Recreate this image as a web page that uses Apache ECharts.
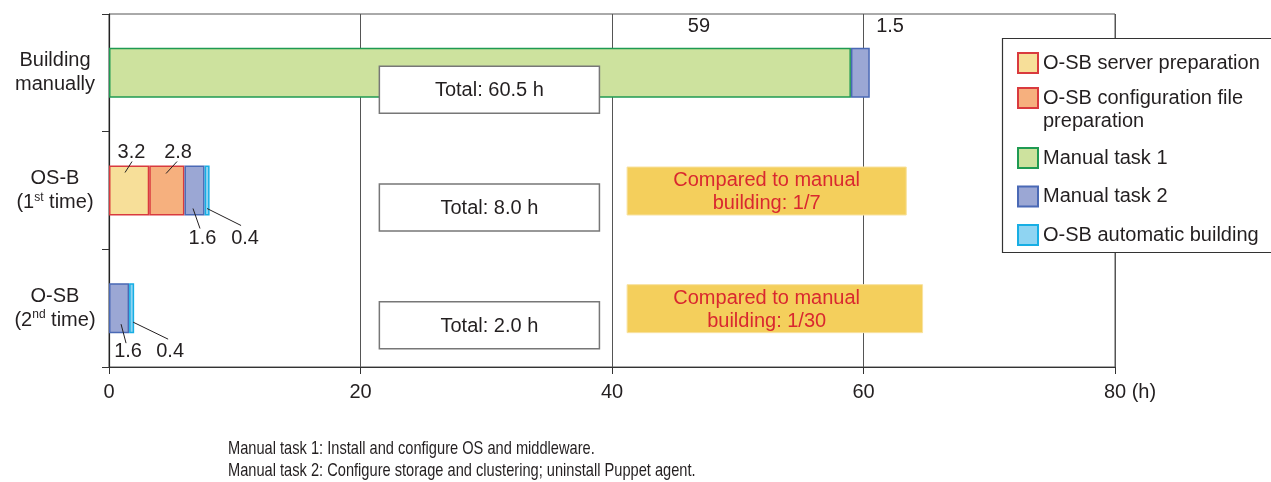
<!DOCTYPE html>
<html>
<head>
<meta charset="utf-8">
<script src="https://cdn.jsdelivr.net/npm/echarts@6/dist/echarts.min.js"></script>
<style>
  html, body { margin: 0; padding: 0; background: #ffffff; }
  #chart { width: 1271px; height: 482px; }
</style>
</head>
<body>
<div id="chart"></div>
<script>
// Build time per approach (hours), stacked by task
const categories = ['Building manually', 'OS-B (1st time)', 'O-SB (2nd time)'];
const serverPrep  = [null, 3.2, null];
const configPrep  = [null, 2.8, null];
const manualTask1 = [59, null, null];
const manualTask2 = [1.5, 1.6, 1.6];
const autoBuild   = [null, 0.4, 0.4];
const xTicks = [0, 20, 40, 60, 80];
const ratioLabels = [null, '1/7', '1/30'];
const footnotes = [
  'Manual task 1: Install and configure OS and middleware.',
  'Manual task 2: Configure storage and clustering; uninstall Puppet agent.'
];

const FONT = '"Liberation Sans", Arial, Helvetica, sans-serif';
const TEXT = '#231f20';
const BAR_W = 50;

const seriesDefs = [
  { name: 'O-SB server preparation', data: serverPrep, fill: '#f7df99', border: '#d93a3e' },
  { name: 'O-SB configuration file preparation', data: configPrep, fill: '#f6b07e', border: '#d93a3e' },
  { name: 'Manual task 1', data: manualTask1, fill: '#cde29e', border: '#1f9a52' },
  { name: 'Manual task 2', data: manualTask2, fill: '#9ba7d4', border: '#4a69b5' },
  { name: 'O-SB automatic building', data: autoBuild, fill: '#8fd4f2', border: '#17aee4' }
];

// Where each value label sits, relative to (segment centre, bar top), plus its leader line
const valueLabelPlacement = {
  0: { 1: { offset: [2.4, -13], line: [[2.9, -4], [-4.1, 7]] } },
  1: { 1: { offset: [11.2, -13], line: [[10.2, -4], [-0.8, 8]] } },
  2: { 0: { offset: [219, -21] } },
  3: { 0: { offset: [29.7, -21] },
       1: { offset: [8, 73], line: [[5.5, 63], [-1.5, 43]] },
       2: { offset: [9, 68], line: [[7, 60], [2, 41]] } },
  4: { 1: { offset: [38, 73], line: [[34, 60], [0, 43]] },
       2: { offset: [38.5, 68], line: [[36.5, 56], [1.5, 39]] } }
};

// Annotation boxes (x in axis units, y relative to category centre in px)
const totalBox = { x: [21.5, 39], dy: 17, h: 47 };
const ratioBox = { x: { 1: [41.2, 63.4], 2: [41.2, 64.7] }, textX: 52.3, dy: 0.5, h: 48 };

const series = seriesDefs.map((s, k) => ({
  name: s.name,
  type: 'bar',
  stack: 'time',
  barWidth: BAR_W,
  itemStyle: { color: s.fill, borderColor: s.border, borderWidth: 1.5 },
  emphasis: { disabled: true },
  data: s.data.map((v, i) => {
    const pl = (valueLabelPlacement[k] || {})[i];
    if (v == null) return '-';
    if (!pl) return v;
    return {
      value: v,
      label: {
        show: true, position: ['50%', 0], offset: pl.offset,
        align: 'center', verticalAlign: 'middle',
        fontSize: 20, fontFamily: FONT, color: TEXT
      }
    };
  })
}));

function yLabel(value) {
  const idx = value.indexOf(' ');
  const l1 = value.slice(0, idx);
  const l2 = value.slice(idx + 1).replace(/(\d)(st|nd|rd|th)/, '$1}{s|$2}{a|');
  return '{a|' + l1 + '}\n{a|' + l2 + '}';
}

const chart = echarts.init(document.getElementById('chart'), null, { renderer: 'canvas' });

const legendText = { fontSize: 20, fontFamily: FONT, color: TEXT, lineHeight: 20 };
const legendBase = { orient: 'vertical', left: 1017, padding: 0, z: 10, icon: 'rect',
                     itemWidth: 20, itemHeight: 20, selectedMode: false };
chart.setOption({
  animation: false,
  textStyle: { fontFamily: FONT, color: TEXT },
  grid: {
    left: 109, right: 156, top: 14, bottom: 115,
    show: true, borderColor: '#555', borderWidth: 1, backgroundColor: 'transparent'
  },
  legend: [
    Object.assign({}, legendBase, { data: [seriesDefs[0].name], top: 52, textStyle: legendText }),
    // first line sits level with the swatch; the wrapped word hangs below it
    Object.assign({}, legendBase, { data: [seriesDefs[1].name], top: 63.5,
      formatter: () => ' \nO-SB configuration file\npreparation',
      textStyle: Object.assign({}, legendText, { lineHeight: 23 }) }),
    Object.assign({}, legendBase, { data: [seriesDefs[2].name, seriesDefs[3].name, seriesDefs[4].name],
      top: 147, itemGap: 16.5, textStyle: legendText })
  ],
  xAxis: {
    type: 'value', min: xTicks[0], max: xTicks[xTicks.length - 1], interval: 20,
    axisLine: { show: true, lineStyle: { color: '#333', width: 1 } },
    axisTick: { show: true, length: 7, lineStyle: { color: '#333' } },
    splitLine: { show: true, lineStyle: { color: '#555', width: 1 } },
    axisLabel: {
      fontSize: 20, fontFamily: FONT, color: TEXT, margin: 15,
      formatter: v => v === xTicks[xTicks.length - 1] ? '{h|' + v + ' (h)}' : String(v),
      rich: { h: { fontSize: 20, fontFamily: FONT, color: TEXT, padding: [0, 0, 0, 30] } }
    }
  },
  yAxis: {
    type: 'category', data: categories, inverse: true,
    axisLine: { show: true, lineStyle: { color: '#222', width: 1.2 } },
    axisTick: { show: true, length: 7, lineStyle: { color: '#333' } },
    splitLine: { show: false },
    axisLabel: {
      align: 'center', margin: 54, formatter: yLabel,
      rich: {
        a: { fontSize: 20, fontFamily: FONT, color: TEXT, lineHeight: 24 },
        s: { fontSize: 12, fontFamily: FONT, color: TEXT, padding: [0, 0, 10, 0] }
      }
    }
  },
  series: series
});

// Annotations positioned through the axes
function annotate() {
  const px = (v, c) => chart.convertToPixel({ xAxisIndex: 0, yAxisIndex: 0 }, [v, c]);
  const els = [];
  const running = categories.map(() => 0);

  seriesDefs.forEach((s, k) => {
    s.data.forEach((v, i) => {
      if (v == null) return;
      const start = running[i];
      running[i] += v;
      const pl = (valueLabelPlacement[k] || {})[i];
      if (!pl || !pl.line) return;
      const a = px(start, i), b = px(start + v, i);
      const cx = (a[0] + b[0]) / 2;
      const top = a[1] - BAR_W / 2;
      els.push({
        type: 'line', z: 100, silent: true,
        shape: { x1: cx + pl.line[0][0], y1: top + pl.line[0][1], x2: cx + pl.line[1][0], y2: top + pl.line[1][1] },
        style: { stroke: '#231f20', lineWidth: 1 }
      });
    });
  });

  // Total boxes
  categories.forEach((c, i) => {
    const total = running[i];
    const l = px(totalBox.x[0], i), r = px(totalBox.x[1], i);
    const cy = l[1] + totalBox.dy;
    els.push({
      type: 'rect', z: 100, silent: true,
      shape: { x: l[0], y: cy - totalBox.h / 2, width: r[0] - l[0], height: totalBox.h },
      style: { fill: '#ffffff', stroke: '#777777', lineWidth: 1.5 }
    });
    els.push({
      type: 'text', z: 101, silent: true, x: (l[0] + r[0]) / 2, y: cy + 1,
      style: { text: 'Total: ' + total.toFixed(1) + ' h', fontSize: 20, fontFamily: FONT, fill: TEXT, align: 'center', verticalAlign: 'middle' }
    });
  });

  // Ratio callouts
  categories.forEach((c, i) => {
    if (!ratioLabels[i]) return;
    const rng = ratioBox.x[i];
    const l = px(rng[0], i), r = px(rng[1], i);
    const cy = l[1] + ratioBox.dy;
    const tx = px(ratioBox.textX, i)[0];
    els.push({
      type: 'rect', z: 100, silent: true,
      shape: { x: l[0], y: cy - ratioBox.h / 2, width: r[0] - l[0], height: ratioBox.h },
      style: { fill: '#f4cf5c', stroke: '#f8e2a0', lineWidth: 1 }
    });
    els.push({
      type: 'text', z: 101, silent: true, x: tx, y: cy + 1,
      style: { text: 'Compared to manual\nbuilding: ' + ratioLabels[i], fontSize: 20, fontFamily: FONT,
               fill: '#d9282f', align: 'center', verticalAlign: 'middle', lineHeight: 23 }
    });
  });

  // Legend frame (under the legend items, over the grid lines)
  els.push({
    type: 'rect', z: 5, silent: true,
    shape: { x: 1002.5, y: 38.5, width: 300, height: 214 },
    style: { fill: '#ffffff', stroke: '#333333', lineWidth: 1.2 }
  });

  // Footnotes, set in a condensed face
  els.push({
    type: 'text', z: 100, silent: true, x: 228, y: 438, scaleX: 0.77, originX: 0, originY: 0,
    style: { text: footnotes.join('\n'), fontSize: 19, fontFamily: FONT, fill: TEXT,
             align: 'left', verticalAlign: 'top', lineHeight: 22 }
  });

  chart.setOption({ graphic: { elements: els } });
}
annotate();
</script>
</body>
</html>
